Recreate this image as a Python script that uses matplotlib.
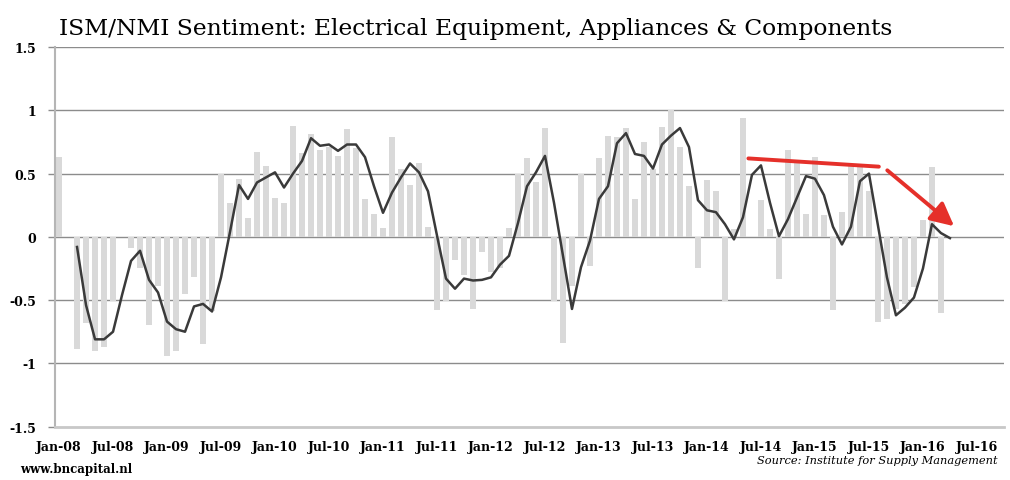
import numpy as np
import matplotlib
matplotlib.use("Agg")
import matplotlib.pyplot as plt

# monthly sentiment, Jan-08 .. Apr-16
sentiment = [
    0.63, 0.00, -0.89, -0.68, -0.90, -0.87, -0.51, 0.00, -0.09, -0.25, -0.70, -0.39,
    -0.94, -0.90, -0.45, -0.32, -0.85, -0.59, 0.50, 0.27, 0.46, 0.15, 0.67, 0.56,
    0.31, 0.27, 0.88, 0.66, 0.81, 0.69, 0.71, 0.64, 0.85, 0.70, 0.30, 0.18,
    0.07, 0.79, 0.54, 0.41, 0.58, 0.08, -0.58, -0.51, -0.18, -0.30, -0.57, -0.12,
    -0.28, -0.25, 0.07, 0.50, 0.62, 0.43, 0.86, -0.51, -0.84, -0.39, 0.50, -0.23,
    0.62, 0.80, 0.79, 0.86, 0.30, 0.75, 0.54, 0.87, 1.00, 0.71, 0.40, -0.25,
    0.45, 0.36, -0.51, 0.06, 0.94, 0.00, 0.29, 0.06, -0.33, 0.69, 0.58, 0.18,
    0.63, 0.17, -0.58, 0.20, 0.56, 0.55, 0.36, -0.67, -0.65, -0.57, -0.53, -0.40,
    0.13, 0.55, -0.60, 0.00,
]

# 3-month average line, Mar-08 .. Apr-16
avg_line = [
    -0.08, -0.54, -0.81, -0.81, -0.75, -0.46, -0.19, -0.11, -0.34, -0.44,
    -0.67, -0.73, -0.75, -0.55, -0.53, -0.59, -0.32, 0.04, 0.41, 0.30, 0.43, 0.47,
    0.51, 0.39, 0.50, 0.60, 0.78, 0.72, 0.73, 0.68, 0.73, 0.73, 0.63, 0.40,
    0.19, 0.35, 0.47, 0.58, 0.51, 0.36, 0.01, -0.33, -0.41, -0.33, -0.345, -0.34,
    -0.32, -0.22, -0.15, 0.11, 0.40, 0.51, 0.64, 0.27, -0.15, -0.57, -0.24, -0.03,
    0.30, 0.40, 0.74, 0.82, 0.655, 0.64, 0.54, 0.73, 0.80, 0.86, 0.71, 0.29,
    0.21, 0.195, 0.10, -0.02, 0.155, 0.49, 0.565, 0.27, 0.005, 0.14, 0.31, 0.48,
    0.46, 0.33, 0.08, -0.06, 0.08, 0.44, 0.50, 0.09, -0.32, -0.62, -0.56, -0.48,
    -0.25, 0.10, 0.03, -0.01,
]

tick_labels = ["Jan-08", "Jul-08", "Jan-09", "Jul-09", "Jan-10", "Jul-10",
               "Jan-11", "Jul-11", "Jan-12", "Jul-12", "Jan-13", "Jul-13",
               "Jan-14", "Jul-14", "Jan-15", "Jul-15", "Jan-16", "Jul-16"]

x_bars = np.arange(len(sentiment))
x_line = np.arange(2, 2 + len(avg_line))

fig = plt.figure(figsize=(10.1, 4.81), dpi=100)
ax = fig.add_axes([0.054, 0.111, 0.940, 0.789])

ax.bar(x_bars, sentiment, width=0.66, color="#d9d9d9", zorder=2)
ax.plot(x_line, avg_line, color="#3a3a3a", lw=1.8, zorder=3)

ax.set_xlim(-0.5, 105)
ax.set_ylim(-1.5, 1.5)
ax.set_yticks([-1.5, -1, -0.5, 0, 0.5, 1, 1.5])
ax.set_yticklabels(["-1.5", "-1", "-0.5", "0", "0.5", "1", "1.5"])
ax.set_xticks(np.arange(0, 6 * len(tick_labels), 6))
ax.set_xticklabels(tick_labels)

for y in [-1, -0.5, 0, 0.5, 1, 1.5]:
    ax.axhline(y, color="#8c8c8c", lw=1.0, zorder=1)

for s in ["top", "right"]:
    ax.spines[s].set_visible(False)
ax.spines["left"].set_color("#b5b5b5")
ax.spines["left"].set_linewidth(1.5)
ax.spines["bottom"].set_color("#c8c8c8")
ax.spines["bottom"].set_linewidth(2.0)

ax.tick_params(axis="y", length=5, width=1, color="#8c8c8c", pad=8)
ax.tick_params(axis="x", length=0, pad=10)
for lab in ax.get_xticklabels() + ax.get_yticklabels():
    lab.set_family("DejaVu Serif")
    lab.set_fontweight("bold")
    lab.set_fontsize(9)

# red trend annotations
ax.plot([76.6, 91.1], [0.62, 0.555], color="#e5302a", lw=2.8, zorder=4,
        solid_capstyle="round")
ax.annotate("", xy=(99.7, 0.07), xytext=(91.8, 0.54),
            arrowprops=dict(arrowstyle="-|>,head_length=1.4,head_width=0.7",
                            color="#e5302a", lw=2.8), zorder=4)

fig.text(0.058, 0.927, "ISM/NMI Sentiment: Electrical Equipment, Appliances & Components",
         family="DejaVu Serif", fontsize=16.8, va="baseline", ha="left")
fig.text(0.02, 0.023, "www.bncapital.nl", family="DejaVu Serif",
         fontweight="bold", fontsize=8.5, va="center", ha="left")
fig.text(0.988, 0.042, "Source: Institute for Supply Management",
         family="DejaVu Serif", style="italic", fontsize=8.2, va="center", ha="right")

fig.savefig("out.png", dpi=100)
